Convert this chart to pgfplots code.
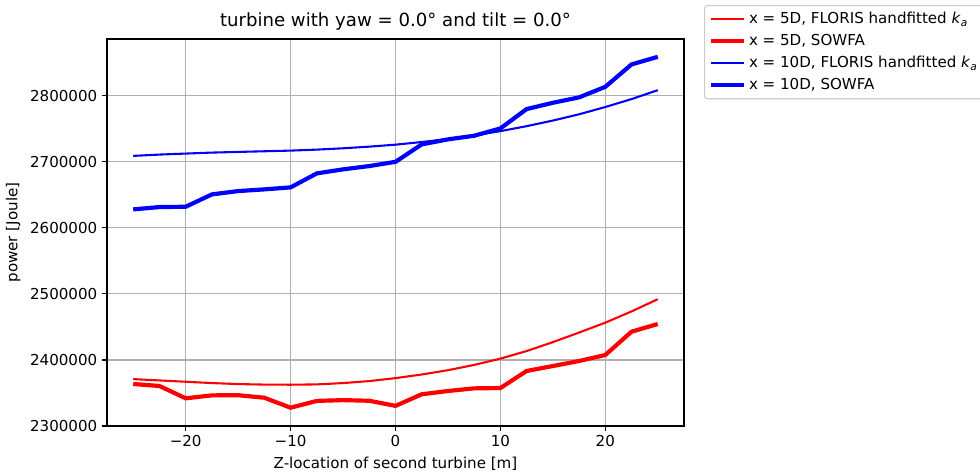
\documentclass[border=0pt]{standalone}
\usepackage{fontspec}
\setmainfont{DejaVu Sans}
\usepackage{pgfplots}
\usepackage{pgfplotstable}
\pgfplotsset{compat=1.18}
\definecolor{gridgray}{HTML}{B0B0B0}
\definecolor{legframe}{HTML}{CCCCCC}
\definecolor{mplred}{HTML}{FF0000}
\definecolor{mplblue}{HTML}{0000FF}

\pgfplotstableread{
z      floris5   sowfa5   floris10  sowfa10
-25    2371000   2363600  2709000   2628000
-22.5  2369000   2360600  2711000   2631500
-20    2367000   2341900  2712500   2632000
-17.5  2365000   2346400  2714000   2650700
-15    2363500   2346600  2715000   2655700
-12.5  2362700   2342800  2716000   2658300
-10    2362500   2327700  2717000   2661300
-7.5   2363000   2338000  2718500   2682500
-5     2365000   2339200  2720500   2688600
-2.5   2368000   2338200  2723000   2693600
0      2372500   2330500  2726000   2700000
2.5    2378000   2348000  2730000   2726400
5      2384500   2353000  2734500   2734000
7.5    2392500   2357000  2740000   2739500
10     2402000   2357500  2746500   2750600
12.5   2413500   2383300  2754000   2779900
15     2427000   2390800  2762500   2789400
17.5   2441500   2398400  2772000   2797600
20     2456500   2407500  2783000   2813600
22.5   2473500   2442800  2795000   2847500
25     2492000   2454400  2808500   2859000
}\datatable

\begin{document}
\begin{tikzpicture}
\begin{axis}[
  at={(0,0)}, anchor=south west,
  scale only axis, width=415.44bp, height=278.64bp,
  xmin=-27.5, xmax=27.5, ymin=2300000, ymax=2886000,
  xtick={-20,-10,0,10,20},
  xticklabels={−20,−10,0,10,20},
  ytick={2300000,2400000,2500000,2600000,2700000,2800000},
  yticklabels={2300000,2400000,2500000,2600000,2700000,2800000},
  scaled y ticks=false,
  grid=major,
  major grid style={gridgray, line width=0.8bp},
  axis line style={line width=0.8bp},
  tick style={black, line width=0.8bp},
  tick align=outside, tick pos=left,
  major tick length=3.5bp,
  tick label style={font=\fontsize{10.9}{13}\selectfont},
  label style={font=\fontsize{10.9}{13}\selectfont},
  title={turbine with yaw = 0.0° and tilt = 0.0°},
  title style={font=\fontsize{13.1}{15}\selectfont, yshift=-3bp},
  xlabel={Z-location of second turbine [m]},
  ylabel={power [Joule]},
  legend cell align=left,
  legend style={at={(1.0347,1.0879)}, anchor=north west, draw=legframe,
    line width=0.8bp, rounded corners=2bp,
    font=\fontsize{10.9}{13}\selectfont, row sep=2.2bp, inner sep=3bp},
  legend image code/.code={\draw[#1] (0bp,0bp) -- (24bp,0bp);},
]
\addplot[mplred, line width=1.5bp] table[x=z, y=floris5] {\datatable};
\addlegendentry{x = 5D, FLORIS handfitted \textit{k}\textsubscript{\textit{a}}}
\addplot[mplred, line width=3bp] table[x=z, y=sowfa5] {\datatable};
\addlegendentry{x = 5D, SOWFA}
\addplot[mplblue, line width=1.5bp] table[x=z, y=floris10] {\datatable};
\addlegendentry{x = 10D, FLORIS handfitted \textit{k}\textsubscript{\textit{a}}}
\addplot[mplblue, line width=3bp] table[x=z, y=sowfa10] {\datatable};
\addlegendentry{x = 10D, SOWFA}
\end{axis}
\pgfresetboundingbox
\path[use as bounding box] (-77.04bp,-33.84bp) rectangle (628.56bp,306.72bp);
\end{tikzpicture}
\end{document}
